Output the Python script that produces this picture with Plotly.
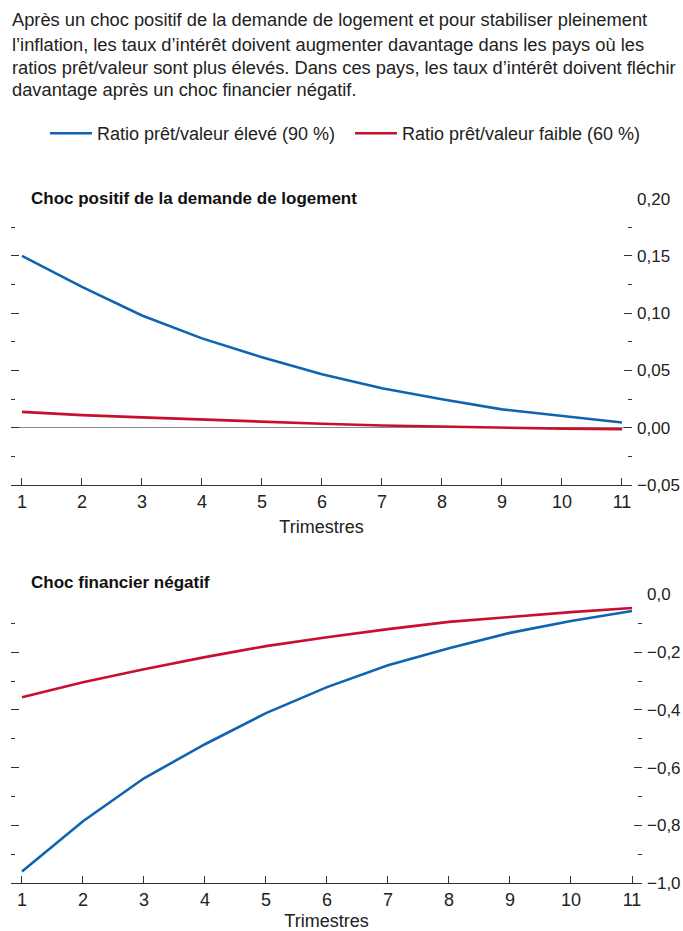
import plotly.graph_objects as go

quarters = list(range(1, 12))
housing_high = [0.150, 0.123, 0.098, 0.078, 0.0615, 0.0467, 0.0345, 0.0249, 0.016, 0.010, 0.0045]
housing_low = [0.0138, 0.011, 0.009, 0.007, 0.0052, 0.0035, 0.002, 0.001, 0.0, -0.0008, -0.0013]
fin_high = [-0.96, -0.786, -0.637, -0.519, -0.411, -0.321, -0.245, -0.186, -0.133, -0.092, -0.057]
fin_low = [-0.356, -0.304, -0.259, -0.217, -0.179, -0.148, -0.120, -0.095, -0.078, -0.061, -0.047]

name_high = "Ratio prêt/valeur élevé (90 %)"
name_low = "Ratio prêt/valeur faible (60 %)"
intro_lines = [
    "Après un choc positif de la demande de logement et pour stabiliser pleinement",
    "l’inflation, les taux d’intérêt doivent augmenter davantage dans les pays où les",
    "ratios prêt/valeur sont plus élevés. Dans ces pays, les taux d’intérêt doivent fléchir",
    "davantage après un choc financier négatif.",
]
title_top = "Choc positif de la demande de logement"
title_bottom = "Choc financier négatif"
x_title = "Trimestres"

BLUE = "#0f64b2"
RED = "#c8102e"
AX = "#333333"
FONT = "Liberation Sans, Arial, sans-serif"

W, H = 683, 931
ML, MR = 11, 41
PW = W - ML - MR

def py(px):
    return 1 - px / H

def pxx(px):
    return (px - ML) / PW

fig = go.Figure()
fig.add_trace(go.Scatter(x=quarters, y=housing_high, mode="lines", name=name_high,
                         line=dict(color=BLUE, width=2.6), xaxis="x", yaxis="y"))
fig.add_trace(go.Scatter(x=quarters, y=housing_low, mode="lines", name=name_low,
                         line=dict(color=RED, width=2.6), xaxis="x", yaxis="y"))
fig.add_trace(go.Scatter(x=quarters, y=fin_high, mode="lines", name=name_high, showlegend=False,
                         line=dict(color=BLUE, width=2.6), xaxis="x2", yaxis="y3"))
fig.add_trace(go.Scatter(x=quarters, y=fin_low, mode="lines", name=name_low, showlegend=False,
                         line=dict(color=RED, width=2.6), xaxis="x2", yaxis="y3"))

xtickfont = dict(family=FONT, size=18, color="#222")
ytickfont = dict(family=FONT, size=17, color="#222")
minor_top = dict(dtick=0.025, tick0=0, ticks="inside", ticklen=4, tickcolor=AX, showgrid=False)
minor_bot = dict(tickvals=[-0.9, -0.7, -0.5, -0.3, -0.1], ticks="inside", ticklen=4, tickcolor=AX, showgrid=False)
major_bot = [-1.0, -0.8, -0.6, -0.4, -0.2]

common_x = dict(tickvals=quarters, ticks="inside", ticklen=7, tickcolor=AX, showline=True,
                linecolor=AX, linewidth=1, showgrid=False, zeroline=False, tickfont=xtickfont,
                automargin=False)

fig.update_layout(
    width=W, height=H, autosize=False,
    margin=dict(l=ML, r=MR, t=0, b=0, autoexpand=False),
    paper_bgcolor="white", plot_bgcolor="white",
    separators=", ",
    font=dict(family=FONT, size=17, color="#222"),
    showlegend=True,
    legend=dict(orientation="h", x=pxx(45), y=py(115), xanchor="left", yanchor="top",
                font=dict(family=FONT, size=18, color="#222"), itemwidth=42,
                entrywidth=248, entrywidthmode="pixels",
                bgcolor="rgba(0,0,0,0)", tracegroupgap=0),
    xaxis=dict(domain=[0, (632 - ML) / PW], anchor="y", range=[0.817, 11.167],
               title=dict(text=x_title, font=xtickfont, standoff=9), **common_x),
    yaxis=dict(domain=[py(485), py(198.5)], anchor="x", range=[-0.05, 0.2001], dtick=0.05, tick0=0,
               ticks="inside", ticklen=8, tickcolor=AX, showticklabels=False, showgrid=False,
               automargin=False,
               zeroline=True, zerolinecolor="#8a8a8a", zerolinewidth=1, minor=minor_top),
    yaxis2=dict(overlaying="y", side="right", anchor="x", range=[-0.05, 0.2001], dtick=0.05, tick0=0,
                ticks="inside", ticklen=8, tickcolor=AX, showticklabels=True, tickformat=".2f",
                tickfont=ytickfont, showgrid=False, zeroline=False, minor=minor_top,
                automargin=False, ticklabelstandoff=4),
    xaxis2=dict(domain=[0, 1], anchor="y3", range=[0.82, 11.164],
                title=dict(text=x_title, font=xtickfont, standoff=5), **common_x),
    yaxis3=dict(domain=[py(883), py(594.5)], anchor="x2", range=[-1.0, 0.0], tickvals=major_bot,
                ticks="inside", ticklen=8, tickcolor=AX, showticklabels=False, showgrid=False,
                automargin=False, zeroline=False, minor=minor_bot),
    yaxis4=dict(overlaying="y3", side="right", anchor="x2", range=[-1.0, 0.0], tickvals=major_bot,
                ticks="inside", ticklen=8, tickcolor=AX, showticklabels=False, showgrid=False,
                automargin=False, zeroline=False, minor=minor_bot),
    yaxis5=dict(overlaying="y3", side="right", anchor="x2", range=[-1.0, 0.0],
                tickvals=major_bot + [0.0], ticks="", showticklabels=True, tickformat=".1f",
                tickfont=ytickfont, showgrid=False, zeroline=False, automargin=False,
                ticklabelstandoff=4),
)

# invisible traces to activate overlay axes
fig.add_trace(go.Scatter(x=[None], y=[None], xaxis="x", yaxis="y2", showlegend=False, hoverinfo="skip"))
for ax in ["y4", "y5"]:
    fig.add_trace(go.Scatter(x=[None], y=[None], xaxis="x2", yaxis=ax, showlegend=False, hoverinfo="skip"))

annotations = []
line_centers = [20, 44, 67, 90]
for txt, yc in zip(intro_lines, line_centers):
    annotations.append(dict(text=txt, xref="paper", yref="paper", x=pxx(10), y=py(yc),
                            xanchor="left", yanchor="middle", showarrow=False,
                            font=dict(family=FONT, size=18.3, color="#222")))
annotations.append(dict(text="<b>" + title_top + "</b>", xref="paper", yref="paper", x=pxx(29), y=py(199),
                        xanchor="left", yanchor="middle", showarrow=False,
                        font=dict(family=FONT, size=17, color="#111")))
annotations.append(dict(text="<b>" + title_bottom + "</b>", xref="paper", yref="paper", x=pxx(29), y=py(582),
                        xanchor="left", yanchor="middle", showarrow=False,
                        font=dict(family=FONT, size=17, color="#111")))
fig.update_layout(annotations=annotations)

fig.write_html("out.html", config={"displayModeBar": False},
               post_script="document.body.style.margin='0';document.body.style.overflow='hidden';")
